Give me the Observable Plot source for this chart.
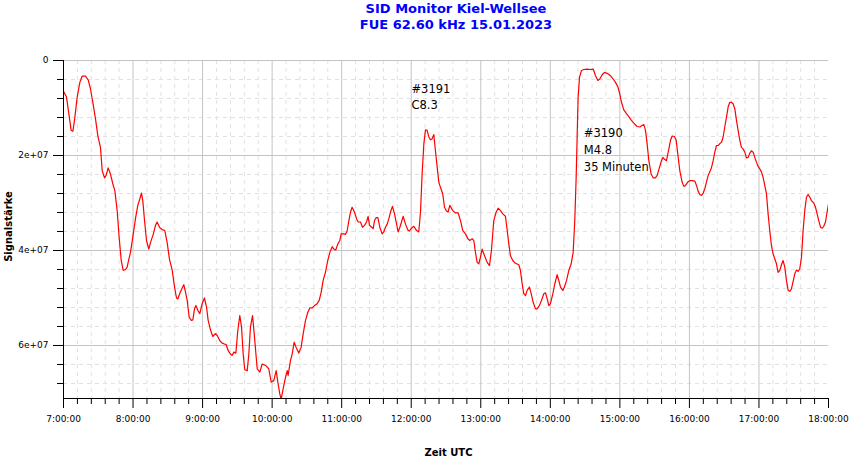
<!DOCTYPE html>
<html>
<head>
<meta charset="utf-8">
<script src="https://cdn.jsdelivr.net/npm/d3@7"></script>
<script src="https://cdn.jsdelivr.net/npm/@observablehq/plot@0.6"></script>
<style>
  html, body { margin: 0; padding: 0; background: #ffffff; }
  #title {
    box-sizing: border-box;
    width: 850px; height: 34px;
    padding-left: 62px; padding-top: 1px;
    text-align: center;
    font-family: "DejaVu Sans", sans-serif;
    font-weight: bold; font-size: 13px; line-height: 16px;
    color: #0000ff;
  }
  #chart svg { display: block; }
</style>
</head>
<body>
<div id="title">SID Monitor Kiel-Wellsee<br>FUE 62.60 kHz 15.01.2023</div>
<div id="chart"></div>
<script>
// Time in minutes after 7:00 UTC
const minutes = [
  0, 2.6, 4.6, 6.6, 8.1, 9.5, 11.8, 14.1, 16.1, 19.0,
  21.3, 23.3, 25.3, 27.6, 29.6, 31.9, 33.4, 35.4, 36.8, 38.5,
  40.5, 42.6, 44.3, 46.3, 48.0, 49.8, 51.5, 53.5, 54.9, 56.4,
  57.8, 59.8, 62.1, 64.1, 65.9, 67.3, 68.4, 69.9, 71.6, 73.6,
  75.1, 77.4, 79.4, 80.8, 82.8, 85.1, 87.4, 89.4, 91.4, 93.8,
  95.8, 97.5, 98.6, 100.4, 102.4, 103.8, 105.3, 106.7, 108.4, 110.1,
  111.6, 113.0, 114.2, 115.9, 117.6, 119.6, 121.6, 123.4, 124.8, 126.8,
  128.8, 131.1, 132.6, 134.9, 136.9, 138.9, 140.3, 142.1, 144.1, 145.5,
  147.0, 148.7, 150.4, 152.1, 153.6, 155.0, 156.4, 158.5, 159.9, 161.3,
  163.1, 164.8, 167.1, 169.4,
  171.4, 174.3, 177.1, 179.2, 181.4, 183.5, 184.9, 186.6, 187.8, 189.2,
  190.9, 193.0, 193.8, 195.8, 197.3, 199.0, 200.7, 203.0, 205.0, 206.8,
  208.8, 210.8, 212.5, 214.5, 216.5, 218.8, 220.6, 222.3, 224.0, 226.0,
  228.0, 229.8, 231.8, 233.2, 234.9, 236.7, 238.4, 239.5, 241.8, 243.3,
  244.7, 246.2, 247.6, 249.0, 251.0, 252.8, 254.2, 256.2, 258.0, 259.7,
  261.4, 262.8, 264.0, 265.4, 267.2, 268.3, 269.7, 271.2, 272.9, 274.9,
  276.3, 277.8, 279.2, 280.7, 282.1, 283.8, 285.6, 287.3, 288.7, 290.2,
  291.6, 293.0, 295.0, 297.1, 298.5, 300.2, 302.2, 304.3, 306.5, 308.0,
  309.4, 310.9, 312.3, 313.7, 315.2, 316.6, 318.0, 319.5, 320.9, 322.4,
  323.8, 325.2, 327.2, 328.7, 330.4, 331.8, 333.3,
  335.9, 338.2, 340.5, 342.5, 344.5, 346.8, 348.8, 350.5, 352.6, 354.0,
  355.4, 356.9, 358.3, 359.7, 361.2, 362.6, 365.5, 367.5, 369.2, 371.2,
  373.3, 375.0, 377.0, 379.0, 381.3, 382.8, 384.2, 385.6, 387.6, 389.9,
  392.8, 394.2, 395.7, 397.1, 398.6, 400.0, 402.0, 403.5, 405.2, 407.2,
  408.6, 410.6, 412.4, 414.4, 415.8, 417.3, 418.7, 420.1, 422.2, 423.9,
  425.9, 427.3, 428.8, 430.8, 432.2, 434.0, 436.0, 438.0, 439.7, 441.1,
  442.3, 443.2, 444.0, 445.2, 446.9, 448.9, 451.8, 454.7, 457.0, 459.0,
  461.0, 462.7, 464.7, 466.7, 469.0, 471.9, 474.2, 476.2, 478.2, 479.9,
  481.4, 483.4, 485.7, 487.7, 489.7, 492.0, 494.9, 497.2,
  499.2, 500.7, 502.1, 503.5, 505.0, 507.0, 508.7, 510.7, 512.2, 514.2,
  515.9, 517.1, 518.5, 520.2, 521.7, 523.7, 525.1, 527.1, 528.6, 530.0,
  531.7, 533.7, 535.2, 536.6, 538.6, 540.3, 542.4, 544.7, 546.1, 547.5,
  549.0, 550.4, 551.9, 553.3, 554.7, 556.2, 557.6, 559.0, 560.5, 561.9,
  563.4, 564.8, 566.2, 567.7, 569.1, 570.5, 572.0, 573.4, 574.8, 576.3,
  577.7, 579.2, 580.6, 582.0, 583.5, 584.9, 586.3, 587.8, 589.2, 590.7,
  592.1, 593.5, 595.0, 596.4, 597.8, 599.3, 600.7, 602.2, 603.6, 605.0,
  606.5, 607.9, 609.3, 610.8, 612.2, 613.7, 615.1, 616.5, 618.0, 619.4,
  620.8, 622.3, 623.7, 625.2, 626.6, 628.0, 629.5, 630.9, 632.4, 633.8,
  635.2, 636.7, 638.1, 639.5, 641.0, 642.4, 643.9, 645.3, 647.3, 648.8,
  650.2, 651.6, 653.1, 654.5, 655.9, 657.4, 658.8, 660.0
];
// Signal strength in millions
const signalMio = [
  6.5, 7.7, 11.2, 14.7, 14.9, 12.6, 7.7, 4.6, 3.3, 3.3,
  4.1, 6.0, 8.8, 12.3, 15.8, 18.3, 23.2, 24.7, 24.2, 22.6,
  23.9, 26.0, 27.4, 31.6, 37.2, 42.1, 44.2, 44.0, 43.5, 41.8,
  40.4, 37.2, 33.3, 30.5, 29.1, 27.9, 29.5, 33.7, 37.9, 39.7,
  38.3, 36.6, 34.7, 34.0, 35.1, 35.6, 35.8, 38.3, 41.8, 44.2,
  47.7, 50.0, 50.2, 49.0, 47.9, 47.2, 48.8, 50.5, 54.0, 54.7,
  54.6, 52.3, 51.6, 52.6, 53.3, 51.2, 50.0, 51.9, 54.7, 56.7,
  58.1, 57.5, 57.9, 59.0, 59.5, 59.7, 59.8, 61.1, 61.8, 62.1,
  61.4, 61.6, 56.8, 53.7, 56.1, 61.8, 65.1, 65.3, 61.8, 56.1,
  53.7, 58.3, 64.9, 65.6,
  63.9, 64.2, 64.9, 67.7, 67.4, 65.3, 67.7, 70.2, 71.3, 69.5,
  67.4, 65.3, 66.3, 63.2, 61.8, 59.3, 60.4, 61.6, 60.4, 57.5,
  54.7, 53.0, 52.1, 52.1, 51.6, 51.2, 50.5, 48.8, 46.3, 44.6,
  42.1, 40.4, 39.2, 39.7, 39.9, 38.6, 37.9, 36.5, 36.5, 36.6,
  35.9, 33.7, 31.9, 30.9, 31.9, 33.3, 34.0, 34.0, 35.1, 34.7,
  34.0, 32.8, 34.7, 35.0, 35.4, 33.7, 33.1, 33.1, 35.1, 36.5,
  36.1, 35.1, 34.5, 33.3, 31.9, 30.7, 32.3, 34.4, 36.1, 35.1,
  34.0, 32.8, 34.4, 35.7, 35.9, 35.3, 34.9, 35.7, 36.1, 31.9,
  23.9, 17.5, 14.6, 14.7, 16.1, 16.7, 16.5, 15.6, 19.0, 22.5,
  25.6, 26.7, 28.1, 30.9, 31.7, 31.9, 30.5,
  31.6, 32.1, 32.1, 33.7, 35.8, 36.5, 37.5, 37.9, 37.5, 37.9,
  40.4, 42.5, 42.8, 41.4, 39.7, 40.7, 42.5, 43.2, 40.0, 33.7,
  31.9, 31.1, 31.6, 32.3, 32.8, 35.8, 38.6, 41.1, 42.1, 42.7,
  43.0, 44.2, 47.0, 49.1, 49.5, 48.4, 47.7, 49.1, 50.9, 52.3,
  52.3, 51.6, 50.5, 49.1, 48.9, 50.2, 51.6, 51.2, 49.1, 47.0,
  45.1, 46.3, 47.7, 48.4, 47.7, 46.3, 44.2, 42.8, 40.4, 33.7,
  24.6, 15.4, 7.7, 3.5, 2.1, 1.9, 1.8, 1.9, 1.8, 3.2,
  4.2, 3.9, 3.0, 2.5, 2.7, 3.2, 3.9, 4.6, 5.5, 7.0,
  8.8, 10.4, 11.2, 11.8, 12.5, 13.2, 13.9, 14.0,
  13.7, 13.5, 14.7, 17.5, 21.1, 23.9, 24.7, 24.7, 24.2, 22.5,
  21.1, 20.4, 20.8, 21.1, 19.3, 16.8, 15.9, 16.0, 16.8, 19.7,
  23.2, 25.6, 26.5, 26.3, 25.6, 25.3, 25.3, 25.4, 26.3, 27.5,
  28.2, 28.4, 27.9, 27.0, 25.6, 24.2, 23.4, 22.6, 21.1, 19.3,
  17.9, 17.9, 17.5, 17.2, 16.1, 14.0, 11.9, 9.8, 8.8, 8.8,
  9.1, 10.2, 12.6, 14.7, 16.8, 18.3, 18.6, 19.3, 20.5, 20.4,
  19.5, 19.0, 19.3, 20.4, 21.4, 22.3, 22.8, 23.5, 24.6, 26.3,
  28.1, 32.3, 35.8, 39.0, 40.7, 41.8, 42.8, 44.6, 44.2, 43.0,
  42.1, 43.5, 46.3, 48.4, 48.6, 48.1, 46.5, 44.9, 44.1, 44.4,
  43.9, 41.4, 35.8, 31.6, 28.8, 28.2, 28.8, 29.5, 30.0, 30.9,
  32.3, 33.7, 35.1, 35.3, 34.9, 34.0, 31.9, 30.2
];

// Axis ticks
const xMajor = [0, 60, 120, 180, 240, 300, 360, 420, 480, 540, 600, 660];
const xTickLabels = ["7:00:00", "8:00:00", "9:00:00", "10:00:00", "11:00:00", "12:00:00",
                     "13:00:00", "14:00:00", "15:00:00", "16:00:00", "17:00:00", "18:00:00"];
const yMajor = [0, 2e7, 4e7, 6e7];
const yTickLabels = ["0", "2e+07", "4e+07", "6e+07"];
const yMax = 7.116e7;

// Annotations
const anno1Time = [300.2], anno1Value = [4.5e6], anno1Text = ["#3191\nC8.3"];
const anno2Time = [448.9], anno2Value = [13.6e6], anno2Text = ["#3190\nM4.8\n35 Minuten"];

const data = minutes.map((m, i) => ({t: m, v: signalMio[i] * 1e6}));
const xMinor = d3.range(0, 661, 12).filter(d => d % 60 !== 0);
const yMinor = d3.range(0, yMax, 4e6).filter(d => d % 2e7 !== 0);

const chart = Plot.plot({
  width: 850,
  height: 425,
  marginTop: 26,
  marginBottom: 61,
  marginLeft: 63,
  marginRight: 22,
  style: {fontFamily: "DejaVu Sans, sans-serif", fontSize: "9px", color: "#000", background: "#fff", overflow: "visible"},
  x: {type: "linear", domain: [0, 660]},
  y: {domain: [0, yMax], reverse: true},
  marks: [
    Plot.gridX(xMinor, {stroke: "#e2e2e2", strokeOpacity: 1, strokeDasharray: "4,4"}),
    Plot.gridY(yMinor, {stroke: "#e2e2e2", strokeOpacity: 1, strokeDasharray: "4,4"}),
    Plot.gridX(xMajor.filter(d => d > 0 && d < 660), {stroke: "#c4c4c4", strokeOpacity: 1}),
    Plot.gridY(yMajor, {stroke: "#c4c4c4", strokeOpacity: 1}),
    Plot.line(data, {x: "t", y: "v", stroke: "#ff0000", strokeWidth: 1.2, clip: true}),
    Plot.ruleX([0], {stroke: "#000", strokeWidth: 1}),
    Plot.ruleY([yMax], {stroke: "#000", strokeWidth: 1}),
    Plot.axisX(xMajor, {tickSize: 10, tickPadding: 7, label: null, stroke: "#000",
      tickFormat: d => xTickLabels[xMajor.indexOf(d)], fontSize: 9}),
    Plot.axisX(xMinor, {tickSize: 6, label: null, stroke: "#000", tickFormat: () => ""}),
    Plot.axisY(yMajor, {tickSize: 10, tickPadding: 5, label: null, stroke: "#000",
      tickFormat: d => yTickLabels[yMajor.indexOf(d)], fontSize: 9}),
    Plot.axisY(yMinor, {tickSize: 6, label: null, stroke: "#000", tickFormat: () => ""}),
    Plot.text(anno1Text, {x: anno1Time, y: anno1Value, text: anno1Text, textAnchor: "start",
      lineAnchor: "top", lineHeight: 1.39, fontSize: 11.5, fill: "#000"}),
    Plot.text(anno2Text, {x: anno2Time, y: anno2Value, text: anno2Text, textAnchor: "start",
      lineAnchor: "top", lineHeight: 1.48, fontSize: 11.5, fill: "#000"}),
    Plot.text(["Signalstärke"], {frameAnchor: "left", rotate: -90, dx: -55, dy: -3,
      fontSize: 10, fontWeight: "bold", fill: "#000", textAnchor: "middle", lineAnchor: "middle"}),
    Plot.text(["Zeit UTC"], {frameAnchor: "bottom", dx: 2.5, dy: 54,
      fontSize: 10, fontWeight: "bold", fill: "#000", textAnchor: "middle", lineAnchor: "middle"})
  ]
});
document.getElementById("chart").appendChild(chart);
</script>
</body>
</html>
